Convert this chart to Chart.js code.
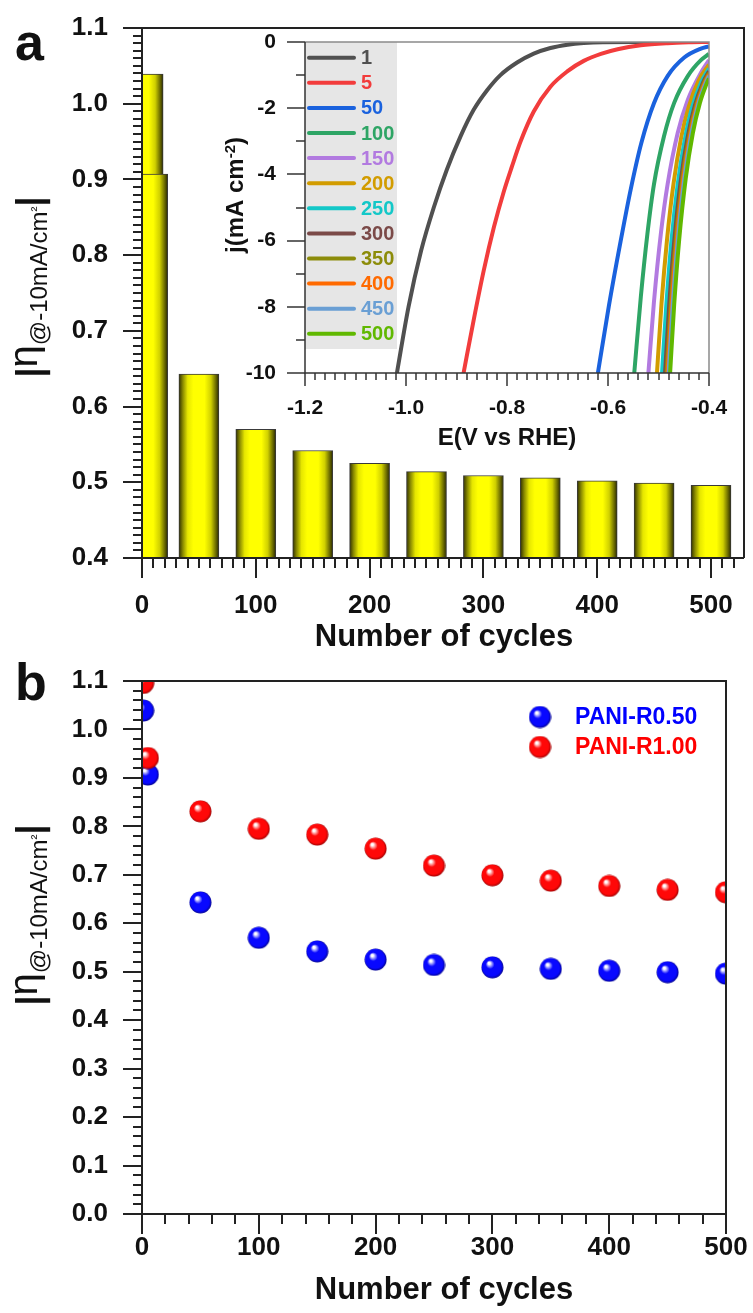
<!DOCTYPE html>
<html>
<head>
<meta charset="utf-8">
<script src="https://cdn.jsdelivr.net/npm/chart.js@4.4.1/dist/chart.umd.min.js"></script>
<style>
	body { margin: 0; background: #fff; }
	#page { position: relative; width: 753px; height: 1313px; }
	#page canvas { position: absolute; }
</style>
</head>
<body>
<div id="page">
	<canvas id="chart-a" width="753" height="660" style="left:0;top:0"></canvas>
	<canvas id="chart-inset" width="545" height="430" style="left:200px;top:30px"></canvas>
	<canvas id="chart-b" width="753" height="653" style="left:0;top:660px"></canvas>
</div>
<script>
const FONT = '"Liberation Sans", Arial, Helvetica, sans-serif';
Chart.defaults.font.family = FONT;
Chart.defaults.color = '#111';

// overpotential at -10 mA/cm2 vs number of cycles
const cycles = [1, 5, 50, 100, 150, 200, 250, 300, 350, 400, 450, 500];
const etaR050 = [1.039, 0.907, 0.643, 0.570, 0.542, 0.525, 0.514, 0.509, 0.506, 0.502, 0.499, 0.496];
const etaR100 = [1.096, 0.941, 0.831, 0.795, 0.783, 0.754, 0.719, 0.699, 0.688, 0.677, 0.669, 0.664];
const seriesNames = ['PANI-R0.50', 'PANI-R1.00'];

// LSV curves for PANI-R0.50, potential (V vs RHE) / current density (mA cm-2)
const lsvLabels = ['1', '5', '50', '100', '150', '200', '250', '300', '350', '400', '450', '500'];
const lsvColors = ['#505050', '#f23c3c', '#1a62de', '#2ea565', '#b27ae0', '#d29c00',
	'#14c8c8', '#7b4a48', '#8c8c0a', '#ff6a00', '#6a9fd4', '#60b800'];

const e1 = [-1.018, -0.995, -0.970, -0.945, -0.919, -0.892, -0.866, -0.839, -0.813, -0.780, -0.747, -0.714, -0.680, -0.648, -0.610, -0.550, -0.400];
const j1 = [-10, -8.0, -6.3, -5.0, -3.85, -2.85, -2.05, -1.45, -1.0, -0.62, -0.35, -0.18, -0.08, -0.03, -0.005, 0, 0];
const e5 = [-0.886, -0.866, -0.846, -0.826, -0.806, -0.790, -0.773, -0.747, -0.714, -0.680, -0.648, -0.614, -0.581, -0.535, -0.482, -0.440, -0.400];
const j5 = [-10, -8.4, -6.9, -5.6, -4.5, -3.75, -3.0, -2.1, -1.35, -0.88, -0.57, -0.36, -0.22, -0.10, -0.035, -0.01, 0];
const e50 = [-0.620, -0.598, -0.576, -0.555, -0.534, -0.509, -0.482, -0.449, -0.416, -0.400];
const j50 = [-10, -7.95, -6.1, -4.45, -3.05, -1.85, -1.03, -0.47, -0.20, -0.13];
const e100 = [-0.548, -0.535, -0.522, -0.509, -0.489, -0.469, -0.442, -0.416, -0.400];
const j100 = [-10, -7.7, -5.8, -4.3, -2.84, -1.84, -1.03, -0.55, -0.36];
const e150 = [-0.520, -0.509, -0.495, -0.482, -0.462, -0.442, -0.416, -0.400];
const j150 = [-10, -7.85, -5.75, -4.3, -2.75, -1.75, -0.93, -0.55];
const e200 = [-0.503, -0.494, -0.483, -0.470, -0.455, -0.440, -0.420, -0.400];
const j200 = [-10, -7.9, -5.95, -4.25, -2.88, -1.95, -1.15, -0.68];
const e250 = [-0.493, -0.485, -0.475, -0.462, -0.448, -0.434, -0.416, -0.400];
const j250 = [-10, -8.05, -6.1, -4.3, -2.95, -2.0, -1.23, -0.80];
const e300 = [-0.487, -0.479, -0.469, -0.456, -0.442, -0.428, -0.412, -0.400];
const j300 = [-10, -8.0, -6.05, -4.2, -2.85, -1.92, -1.23, -0.88];
const e350 = [-0.484, -0.476, -0.466, -0.453, -0.439, -0.425, -0.410, -0.400];
const j350 = [-10, -7.97, -6.0, -4.15, -2.8, -1.88, -1.23, -0.93];
const e400 = [-0.482, -0.474, -0.464, -0.451, -0.437, -0.423, -0.409, -0.400];
const j400 = [-10, -7.97, -6.0, -4.14, -2.78, -1.87, -1.26, -0.98];
const e450 = [-0.480, -0.472, -0.462, -0.449, -0.435, -0.421, -0.408, -0.400];
const j450 = [-10, -7.96, -6.0, -4.13, -2.77, -1.86, -1.29, -1.02];
const e500 = [-0.477, -0.469, -0.459, -0.446, -0.432, -0.418, -0.406, -0.400];
const j500 = [-10, -7.95, -5.97, -4.12, -2.75, -1.84, -1.31, -1.10];

const lsvPotential = [e1, e5, e50, e100, e150, e200, e250, e300, e350, e400, e450, e500];
const lsvCurrent = [j1, j5, j50, j100, j150, j200, j250, j300, j350, j400, j450, j500];

// fixed axis box sizes so the plot areas land where we want them
function fixBox(size) {
	return (s) => {
		if (s.isHorizontal()) s.height = size; else s.width = size;
		s.paddingLeft = s.paddingRight = s.paddingTop = s.paddingBottom = 0;
	};
}

function tickRun(ctx, scale, t, area, horizontal) {
	const k = Math.round(t.major / t.minor);
	const n = Math.floor((scale.max - scale.min) / t.minor + 1e-6);
	for (let i = 0; i <= n; i++) {
		const p = Math.round(scale.getPixelForValue(scale.min + i * t.minor));
		const len = i % k === 0 ? t.majorLen : t.minorLen;
		ctx.beginPath();
		if (horizontal) {
			ctx.moveTo(p, area.bottom);
			ctx.lineTo(p, area.bottom + len);
		} else {
			ctx.moveTo(area.left, p);
			ctx.lineTo(area.left - len, p);
		}
		ctx.stroke();
	}
}

// box frame + major/minor tick marks
const frame = {
	id: 'frame',
	afterDatasetsDraw(chart, args, o) {
		const {ctx, chartArea: a} = chart;
		ctx.save();
		ctx.lineWidth = o.width;
		ctx.strokeStyle = o.outerColor || o.color;
		ctx.beginPath();
		ctx.moveTo(a.left, a.top);
		ctx.lineTo(a.right, a.top);
		ctx.lineTo(a.right, a.bottom);
		ctx.stroke();
		ctx.strokeStyle = o.color;
		ctx.beginPath();
		ctx.moveTo(a.left, a.top);
		ctx.lineTo(a.left, a.bottom);
		ctx.lineTo(a.right, a.bottom);
		ctx.stroke();
		tickRun(ctx, chart.scales.x, o.x, a, true);
		tickRun(ctx, chart.scales.y, o.y, a, false);
		ctx.restore();
	}
};

function drawRotated(ctx, parts, bx, cy) {
	ctx.save();
	ctx.translate(bx, cy);
	ctx.rotate(-Math.PI / 2);
	ctx.fillStyle = '#111';
	ctx.textBaseline = 'alphabetic';
	let w = 0;
	parts.forEach(p => { ctx.font = p.f; p.w = ctx.measureText(p.t).width; w += p.w; });
	let x = -w / 2;
	parts.forEach(p => { ctx.font = p.f; ctx.fillText(p.t, x, p.dy); x += p.w; });
	ctx.restore();
}

function etaTitle(ctx, bx, cy) {
	drawRotated(ctx, [
		{t: '|', f: 'bold 36px ' + FONT, dy: 5},
		{t: 'η', f: '40px ' + FONT, dy: 0},
		{t: '@-10mA/cm', f: '24px ' + FONT, dy: 10},
		{t: '²', f: '15px ' + FONT, dy: 4},
		{t: '|', f: 'bold 36px ' + FONT, dy: 5}
	], bx, cy);
}

function panelLetter(ctx, letter, x, y) {
	ctx.save();
	ctx.font = 'bold 52px ' + FONT;
	ctx.fillStyle = '#111';
	ctx.textBaseline = 'alphabetic';
	ctx.fillText(letter, x, y);
	ctx.restore();
}

function axisCaption(ctx, text, x, y) {
	ctx.save();
	ctx.font = 'bold 31px ' + FONT;
	ctx.fillStyle = '#111';
	ctx.textAlign = 'center';
	ctx.textBaseline = 'middle';
	ctx.fillText(text, x, y);
	ctx.restore();
}

const tickFont = {size: 26, weight: 'bold'};

// ---------- panel a: bars ----------
function barFill(ctx) {
	const chart = ctx.chart;
	if (!chart.chartArea || ctx.type !== 'data') return '#ffff00';
	const x = chart.scales.x.getPixelForValue(ctx.raw.x);
	const g = chart.ctx.createLinearGradient(x - 20, 0, x + 20, 0);
	g.addColorStop(0, '#303000');
	g.addColorStop(0.1, '#8a8a00');
	g.addColorStop(0.22, '#e6e600');
	g.addColorStop(0.36, '#ffff00');
	g.addColorStop(0.64, '#ffff00');
	g.addColorStop(0.8, '#d0d000');
	g.addColorStop(0.92, '#6e6e00');
	g.addColorStop(1, '#282800');
	return g;
}

new Chart(document.getElementById('chart-a'), {
	type: 'bar',
	data: {
		datasets: [{
			data: cycles.map((c, i) => ({x: c, y: etaR050[i]})),
			backgroundColor: barFill,
			borderColor: '#3a3a3a',
			borderWidth: 1,
			barThickness: 40,
			clip: 0
		}]
	},
	options: {
		responsive: false,
		devicePixelRatio: 1,
		animation: false,
		events: [],
		layout: {padding: {top: 28, right: 9, left: 0, bottom: 0}},
		scales: {
			x: {
				type: 'linear', min: 0, max: 529, offset: false,
				grid: {display: false, drawTicks: false}, border: {display: false},
				ticks: {stepSize: 100, includeBounds: false, padding: 32, font: tickFont, maxRotation: 0},
				afterFit: fixBox(102)
			},
			y: {
				min: 0.4, max: 1.1,
				grid: {display: false, drawTicks: false}, border: {display: false},
				ticks: {stepSize: 0.1, padding: 34, font: tickFont, callback: v => v.toFixed(1)},
				afterFit: fixBox(142)
			}
		},
		plugins: {
			legend: {display: false},
			tooltip: {enabled: false},
			frame: {
				width: 2, color: '#222',
				x: {major: 100, minor: 10, majorLen: 20, minorLen: 10},
				y: {major: 0.1, minor: 0.01, majorLen: 19, minorLen: 9}
			}
		}
	},
	plugins: [frame, {
		id: 'panelA',
		afterDraw(chart) {
			panelLetter(chart.ctx, 'a', 15, 60);
			etaTitle(chart.ctx, 37, 287);
			axisCaption(chart.ctx, 'Number of cycles', 444, 637);
		}
	}]
});

// ---------- inset: LSV curves ----------
const insetLegend = {
	id: 'insetLegend',
	beforeDatasetsDraw(chart) {
		const {ctx, chartArea: a} = chart;
		ctx.save();
		ctx.fillStyle = '#e6e6e6';
		ctx.fillRect(a.left, a.top, 92, 307);
		ctx.font = 'bold 20px ' + FONT;
		ctx.textBaseline = 'middle';
		chart.data.datasets.forEach((ds, i) => {
			const y = a.top + 15.7 + i * 25.1;
			ctx.strokeStyle = ds.borderColor;
			ctx.lineWidth = 4;
			ctx.lineCap = 'round';
			ctx.beginPath();
			ctx.moveTo(a.left + 4, y);
			ctx.lineTo(a.left + 49, y);
			ctx.stroke();
			ctx.fillStyle = ds.borderColor;
			ctx.fillText(ds.label, a.left + 56, y + 1);
		});
		ctx.restore();
	},
	afterDraw(chart) {
		drawRotated(chart.ctx, [
			{t: 'j(mA cm', f: 'bold 24px ' + FONT, dy: 0},
			{t: '-2', f: 'bold 15px ' + FONT, dy: -8},
			{t: ')', f: 'bold 24px ' + FONT, dy: 0}
		], 43, 165);
	}
};

new Chart(document.getElementById('chart-inset'), {
	type: 'line',
	data: {
		datasets: lsvLabels.map((label, i) => ({
			label: label,
			data: lsvPotential[i].map((e, k) => ({x: e, y: lsvCurrent[i][k]})),
			borderColor: lsvColors[i],
			borderWidth: 4,
			pointRadius: 0,
			cubicInterpolationMode: 'monotone',
			order: lsvLabels.length - i,
			clip: 0
		}))
	},
	options: {
		responsive: false,
		devicePixelRatio: 1,
		animation: false,
		events: [],
		layout: {padding: {top: 12, right: 36, left: 0, bottom: 0}},
		scales: {
			x: {
				type: 'linear', min: -1.2, max: -0.4,
				grid: {display: false, drawTicks: false}, border: {display: false},
				ticks: {stepSize: 0.2, padding: 23, font: {size: 21, weight: 'bold'}, maxRotation: 0, callback: v => v.toFixed(1)},
				title: {display: true, text: 'E(V vs RHE)', font: {size: 24, weight: 'bold'}, padding: {top: 0, bottom: 7}, color: '#111'},
				afterFit: fixBox(87)
			},
			y: {
				min: -10, max: 0,
				grid: {display: false, drawTicks: false}, border: {display: false},
				ticks: {stepSize: 2, padding: 29, font: {size: 21, weight: 'bold'}},
				afterFit: fixBox(105)
			}
		},
		plugins: {
			legend: {display: false},
			tooltip: {enabled: false},
			frame: {
				width: 1.5, color: '#333', outerColor: '#8a8a8a',
				x: {major: 0.2, minor: 0.02, majorLen: 13, minorLen: 7},
				y: {major: 2, minor: 1, majorLen: 18, minorLen: 9}
			}
		}
	},
	plugins: [frame, insetLegend]
});

// ---------- panel b: spheres ----------
function sphere(base, rim, d) {
	const c = document.createElement('canvas');
	c.width = c.height = d;
	const g = c.getContext('2d');
	const r = d / 2;
	const grad = g.createRadialGradient(r * 0.68, r * 0.6, 0, r, r, r);
	grad.addColorStop(0, '#ffffff');
	grad.addColorStop(0.1, '#ffffff');
	grad.addColorStop(0.38, base);
	grad.addColorStop(0.82, base);
	grad.addColorStop(1, rim);
	g.fillStyle = grad;
	g.beginPath();
	g.arc(r, r, r - 0.5, 0, Math.PI * 2);
	g.fill();
	return c;
}

const blueBall = sphere('#0808ff', '#00007a', 23);
const redBall = sphere('#ff0808', '#8a0000', 23);

const sphereLegend = {
	id: 'sphereLegend',
	afterDraw(chart) {
		const ctx = chart.ctx;
		ctx.save();
		ctx.font = 'bold 23px ' + FONT;
		ctx.textBaseline = 'middle';
		chart.data.datasets.forEach((ds, i) => {
			const y = 57 + i * 30;
			const img = ds.pointStyle;
			ctx.drawImage(img, 540 - img.width / 2, y - img.height / 2);
			ctx.fillStyle = ds.textColor;
			ctx.fillText(ds.label, 575, y + 1);
		});
		ctx.restore();
		panelLetter(ctx, 'b', 15, 40);
		etaTitle(ctx, 37, 255);
		axisCaption(ctx, 'Number of cycles', 444, 630);
	}
};

new Chart(document.getElementById('chart-b'), {
	type: 'scatter',
	data: {
		datasets: [{
			label: seriesNames[0],
			data: cycles.map((c, i) => ({x: c, y: etaR050[i]})),
			pointStyle: blueBall,
			pointRadius: 11,
			textColor: '#0000ff',
			order: 1,
			clip: 0
		}, {
			label: seriesNames[1],
			data: cycles.map((c, i) => ({x: c, y: etaR100[i]})),
			pointStyle: redBall,
			pointRadius: 11,
			textColor: '#ff0000',
			order: 0,
			clip: 0
		}]
	},
	options: {
		responsive: false,
		devicePixelRatio: 1,
		animation: false,
		events: [],
		layout: {padding: {top: 21, right: 27, left: 0, bottom: 0}},
		scales: {
			x: {
				type: 'linear', min: 0, max: 500,
				grid: {display: false, drawTicks: false}, border: {display: false},
				ticks: {stepSize: 100, padding: 18, font: tickFont, maxRotation: 0},
				afterFit: fixBox(99)
			},
			y: {
				min: 0, max: 1.1,
				grid: {display: false, drawTicks: false}, border: {display: false},
				ticks: {stepSize: 0.1, padding: 34, font: tickFont, callback: v => v.toFixed(1)},
				afterFit: fixBox(142)
			}
		},
		plugins: {
			legend: {display: false},
			tooltip: {enabled: false},
			frame: {
				width: 2, color: '#222',
				x: {major: 100, minor: 20, majorLen: 20, minorLen: 10},
				y: {major: 0.1, minor: 0.02, majorLen: 19, minorLen: 9}
			}
		}
	},
	plugins: [frame, sphereLegend]
});
</script>
</body>
</html>
